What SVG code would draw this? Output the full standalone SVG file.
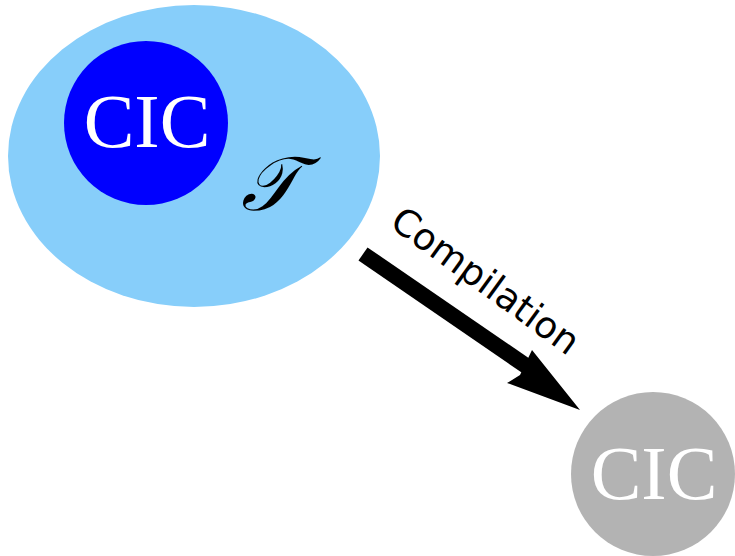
<svg xmlns="http://www.w3.org/2000/svg" width="735" height="556" viewBox="0 0 735 556">
  <style>
    .cic { font-family: "Liberation Serif", "DejaVu Serif", serif; font-size: 76px; fill: #ffffff; text-anchor: middle; }
    .lbl { font-family: "DejaVu Sans", sans-serif; font-size: 37px; fill: #000000; text-anchor: middle; }
    .cal { font-family: "DejaVu Serif", "Liberation Serif", serif; font-style: italic; font-size: 76px; fill: #000000; text-anchor: middle; }
  </style>
  <rect width="735" height="556" fill="#ffffff"/>
  <g id="universe">
    <ellipse cx="194" cy="156" rx="186" ry="151" fill="#87cefa"/>
    <text class="cal" x="270" y="210">𝒯</text>
  </g>
  <g id="cic-source">
    <circle cx="146" cy="123" r="82" fill="#0000ff"/>
    <text class="cic" x="147" y="147">CIC</text>
  </g>
  <g id="cic-target">
    <circle cx="653" cy="474" r="82" fill="#b3b3b3"/>
    <text class="cic" x="654" y="499">CIC</text>
  </g>
  <g id="connectors">
    <line x1="363" y1="254" x2="535" y2="372" stroke="#000000" stroke-width="16"/>
    <path d="M580,410 L507,383 L520,375 L532,350 Z" fill="#000000"/>
    <text class="lbl" transform="translate(478,291) rotate(36)">Compilation</text>
  </g>
</svg>
